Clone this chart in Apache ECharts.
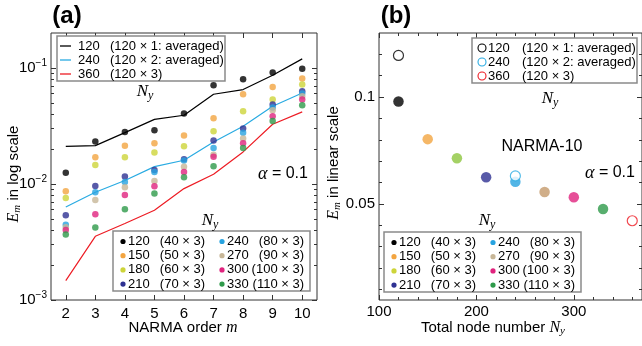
<!DOCTYPE html>
<html><head><meta charset="utf-8">
<script src="https://cdn.jsdelivr.net/npm/echarts@6/dist/echarts.min.js"></script>
<style>html,body{margin:0;padding:0;background:#fff;}#c{width:642px;height:346px;}</style>
</head><body><div id="c"></div><script>
// ---------------- DATA ----------------
const orders = [2, 3, 4, 5, 6, 7, 8, 9, 10];
const nodeCounts = [120, 150, 180, 210, 240, 270, 300, 330];
const nodeLayouts = ['(40 × 3)', '(50 × 3)', '(60 × 3)', '(70 × 3)', '(80 × 3)', '(90 × 3)', '(100 × 3)', '(110 × 3)'];
// Panel (a): E_m vs NARMA order m (single reservoir groups)
const err120 = [0.0125, 0.0232, 0.0281, 0.0290, 0.0405, 0.0710, 0.0800, 0.0915, 0.0985];
const err150 = [0.00865, 0.0170, 0.0214, 0.0224, 0.0261, 0.0368, 0.0593, 0.0686, 0.0811];
const err180 = [0.00757, 0.0146, 0.0170, 0.0187, 0.0211, 0.0285, 0.0424, 0.0534, 0.0719];
const err210 = [0.00537, 0.00962, 0.0116, 0.0132, 0.0163, 0.0237, 0.0301, 0.0483, 0.0630];
const err240 = [0.00446, 0.00848, 0.0104, 0.0127, 0.0159, 0.0204, 0.0276, 0.0456, 0.0601];
const err270 = [0.00423, 0.00728, 0.00937, 0.0106, 0.0141, 0.0179, 0.0246, 0.0432, 0.0570];
const err300 = [0.00401, 0.00548, 0.00804, 0.00955, 0.0127, 0.0172, 0.0224, 0.0383, 0.0534];
const err330 = [0.00366, 0.00421, 0.00605, 0.00826, 0.0114, 0.0142, 0.0204, 0.0348, 0.0477];
const pointSets = [err120, err150, err180, err210, err240, err270, err300, err330];
// Panel (a): lines (multiple 120-node reservoirs)
const lineNames = ['120', '240', '360'];
const lineDescs = ['(120 × 1: averaged)', '(120 × 2: averaged)', '(120 × 3)'];
const line120 = [0.0211, 0.0214, 0.0277, 0.0360, 0.0391, 0.0593, 0.0651, 0.0865, 0.1197];
const line240 = [0.00633, 0.00848, 0.0107, 0.0141, 0.0160, 0.0230, 0.0314, 0.0468, 0.0608];
const line360 = [0.00147, 0.00354, 0.00456, 0.00593, 0.00912, 0.01213, 0.01889, 0.0327, 0.0418];
const lineSets = [line120, line240, line360];
// Panel (b): NARMA-10 error vs total node number
const bFilledErr = [0.0979, 0.0803, 0.0714, 0.0625, 0.0604, 0.0556, 0.0531, 0.0476];
const bOpenN = [120, 240, 360];
const bOpenErr = [0.1195, 0.0631, 0.0421];
// Ticks
const aMajorY = [0.001, 0.01, 0.1];
const aMinorY = [0.002,0.003,0.004,0.005,0.006,0.007,0.008,0.009,0.02,0.03,0.04,0.05,0.06,0.07,0.08,0.09];
const bMajorX = [100, 200, 300];
const bMinorX = [120,140,160,180,220,240,260,280,320,340,360];
const bMajorY = [0.05, 0.1];
const bMinorY = [0.01,0.02,0.03,0.04,0.06,0.07,0.08,0.09,0.11,0.12];

// ---------------- STYLE ----------------
const SANS = '"Liberation Sans", Arial, sans-serif';
const SERIF = '"Liberation Serif", "Times New Roman", serif';
const colorsA = ['#000000', '#f3a541', '#cdd43a', '#2e3192', '#27a3e0', '#c7b697', '#e0237e', '#2e9a4a'];
const colorsB = ['#000000', '#f3a541', '#8dc63f', '#2e3192', '#27a3e0', '#c49a6c', '#e0237e', '#2e9a4a'];
const lineColors = ['#000000', '#29abe2', '#ed1c24'];
const FRAME = '#333';

function ax(o) {
  return Object.assign({
    type: 'value', axisLine: { show: false }, splitLine: { show: false },
    axisTick: { show: false }, axisLabel: { show: false }
  }, o);
}
function ticks(vals, len) { return { show: true, inside: true, length: len, customValues: vals, lineStyle: { color: FRAME, width: 1 } }; }
const tickLbl = { color: '#000', fontSize: 15, fontFamily: SANS };

const xAxes = [
  ax({ gridIndex: 0, position: 'bottom', min: 1.5, max: 10.5, axisTick: ticks(orders, 5), axisLabel: Object.assign({ show: true, customValues: orders, margin: 6 }, tickLbl) }),
  ax({ gridIndex: 0, position: 'top', min: 1.5, max: 10.5, axisTick: ticks(orders, 5) }),
  ax({ gridIndex: 1, position: 'bottom', min: 100, max: 370, axisTick: ticks(bMajorX, 5), axisLabel: Object.assign({ show: true, customValues: bMajorX, margin: 4 }, tickLbl) }),
  ax({ gridIndex: 1, position: 'bottom', min: 100, max: 370, axisTick: ticks(bMinorX, 3) }),
  ax({ gridIndex: 1, position: 'top', min: 100, max: 370, axisTick: ticks(bMajorX, 5) }),
  ax({ gridIndex: 1, position: 'top', min: 100, max: 370, axisTick: ticks(bMinorX, 3) })
];
const logAx = (o) => ax(Object.assign({ type: 'log', logBase: 10, min: 0.001, max: 0.2 }, o));
const yAxes = [
  logAx({ gridIndex: 0, position: 'left', axisTick: ticks(aMajorY, 5), axisLabel: {
    show: true, customValues: aMajorY, margin: 4,
    formatter: v => '{b|10}{s|−' + Math.round(-Math.log10(v)) + '}',
    rich: { b: { fontSize: 15, fontFamily: SANS, color: '#000' }, s: { fontSize: 10, fontFamily: SANS, color: '#000', padding: [0, 0, 9, 0] } }
  } }),
  logAx({ gridIndex: 0, position: 'left', axisTick: ticks(aMinorY, 3) }),
  logAx({ gridIndex: 0, position: 'right', axisTick: ticks(aMajorY, 5) }),
  logAx({ gridIndex: 0, position: 'right', axisTick: ticks(aMinorY, 3) }),
  ax({ gridIndex: 1, position: 'left', min: 0.005, max: 0.13, axisTick: ticks(bMajorY, 5), axisLabel: Object.assign({ show: true, customValues: bMajorY, margin: 4 }, tickLbl) }),
  ax({ gridIndex: 1, position: 'left', min: 0.005, max: 0.13, axisTick: ticks(bMinorY, 3) }),
  ax({ gridIndex: 1, position: 'right', min: 0.005, max: 0.13, axisTick: ticks(bMajorY, 5) }),
  ax({ gridIndex: 1, position: 'right', min: 0.005, max: 0.13, axisTick: ticks(bMinorY, 3) })
];

const series = [];
lineSets.forEach((arr, k) => series.push({
  type: 'line', xAxisIndex: 0, yAxisIndex: 0, symbol: 'none', z: 2,
  lineStyle: { color: lineColors[k], width: 1.2 },
  data: orders.map((m, i) => [m, arr[i]])
}));
pointSets.forEach((arr, k) => series.push({
  type: 'scatter', xAxisIndex: 0, yAxisIndex: 0, symbolSize: 6.5, z: 3,
  itemStyle: { color: colorsA[k] },
  data: orders.map((m, i) => [m, arr[i]])
}));
series.push({
  type: 'scatter', xAxisIndex: 2, yAxisIndex: 4, symbolSize: 10.5, z: 3,
  data: nodeCounts.map((n, i) => ({ value: [n, bFilledErr[i]], itemStyle: { color: colorsB[i] } }))
});
series.push({
  type: 'scatter', xAxisIndex: 2, yAxisIndex: 4, symbolSize: 10, z: 4,
  data: bOpenN.map((n, i) => ({ value: [n, bOpenErr[i]], itemStyle: { color: '#fff', borderColor: lineColors[i], borderWidth: 1.2 } }))
});

// ---------------- TEXT / LEGENDS ----------------
const G = [];
function txt(x, y, text, st, extra) {
  G.push(Object.assign({ type: 'text', x: x, y: y, z: 100, silent: true,
    style: Object.assign({ text: text, fill: '#000', font: '13px ' + SANS, textAlign: 'left', align: 'left', textVerticalAlign: 'middle', verticalAlign: 'middle' }, st || {}) }, extra || {}));
}
function box(x1, y1, x2, y2) {
  G.push({ type: 'rect', z: 90, silent: true, shape: { x: x1, y: y1, width: x2 - x1, height: y2 - y1 }, style: { fill: '#fff', stroke: '#8a8a8a', lineWidth: 1.5 } });
}
function dot(cx, cy, r, fill, stroke) {
  G.push({ type: 'circle', z: 95, silent: true, shape: { cx: cx, cy: cy, r: r }, style: stroke ? { fill: '#fff', stroke: stroke, lineWidth: 1.1 } : { fill: fill } });
}
const NY = { text: '{n|N}{y|y}', rich: { n: { fontSize: 17, fontFamily: SERIF, fontStyle: 'italic' }, y: { fontSize: 12, fontFamily: SERIF, fontStyle: 'italic', padding: [8, 0, 0, 0] } }, textAlign: 'center', align: 'center' };
const ALPHA = { text: '{a|α}{t| = 0.1}', rich: { a: { fontSize: 18, fontFamily: SERIF, fontStyle: 'italic' }, t: { fontSize: 16, fontFamily: SANS } } };

// Panel labels
txt(67, 16, '(a)', { font: 'bold 24px ' + SANS, textAlign: 'center', align: 'center' });
txt(396, 16, '(b)', { font: 'bold 24px ' + SANS, textAlign: 'center', align: 'center' });
// Axis titles
txt(183, 328, '{t|NARMA order }{m|m}', { textAlign: 'center', align: 'center', rich: { t: { fontSize: 15, fontFamily: SANS }, m: { fontSize: 16, fontFamily: SERIF, fontStyle: 'italic' } } });
txt(493, 328, '{t|Total node number }{n|N}{y|y}', { textAlign: 'center', align: 'center', rich: { t: { fontSize: 15, fontFamily: SANS }, n: { fontSize: 16, fontFamily: SERIF, fontStyle: 'italic' }, y: { fontSize: 11, fontFamily: SERIF, fontStyle: 'italic', padding: [7, 0, 0, 0] } } });
const eRich = { e: { fontSize: 16, fontFamily: SERIF, fontStyle: 'italic' }, m: { fontSize: 11, fontFamily: SERIF, fontStyle: 'italic', padding: [7, 0, 0, 0] }, t: { fontSize: 15, fontFamily: SANS } };
txt(14, 174, '{e|E}{m|m}{t| in log scale}', { textAlign: 'center', align: 'center', rich: eRich }, { rotation: Math.PI / 2 });
txt(334, 163, '{e|E}{m|m}{t| in linear scale}', { textAlign: 'center', align: 'center', rich: eRich }, { rotation: Math.PI / 2 });

// (a) top legend
box(57, 36, 225, 81);
lineNames.forEach((nm, i) => {
  const y = 46 + i * 14;
  G.push({ type: 'line', z: 95, silent: true, shape: { x1: 60, y1: y, x2: 71, y2: y }, style: { stroke: lineColors[i], lineWidth: 1.3 } });
  txt(78, y, nm); txt(110, y, lineDescs[i]);
});
txt(145, 92, '', NY);
// (b) top legend
box(472, 38, 637, 83);
lineNames.forEach((nm, i) => {
  const y = 48 + i * 14;
  dot(482, y, 4, null, lineColors[i]);
  txt(488, y, nm); txt(522, y, lineDescs[i]);
});
txt(550, 99, '', NY);
// bottom legends
function nodeLegend(ox, oy, cols) {
  box(ox, oy, ox + 197, oy + 60);
  nodeCounts.forEach((n, i) => {
    const c = Math.floor(i / 4), r = i % 4;
    const y = oy + 10.5 + r * 14.2;
    const x0 = ox + 10 + c * 99;
    dot(x0, y, 2.6, cols[i]);
    txt(x0 + 5, y, String(n));
    txt(x0 + 82, y, nodeLayouts[i], { textAlign: 'right', align: 'right' });
  });
}
nodeLegend(113, 231, colorsA);
txt(210, 221, '', NY);
nodeLegend(384, 232, colorsA);
txt(487, 221, '', NY);
// annotations
txt(258, 174, '', ALPHA);
txt(585, 173, '', ALPHA);
txt(542, 147, 'NARMA-10', { font: '16px ' + SANS, textAlign: 'center', align: 'center' });

const option = {
  animation: false,
  backgroundColor: '#fff',
  grid: [
    { left: 51, top: 33, width: 266, height: 267, show: true, borderColor: FRAME, borderWidth: 1, backgroundColor: 'transparent' },
    { left: 379, top: 33, width: 265, height: 267, show: true, borderColor: FRAME, borderWidth: 1, backgroundColor: 'transparent' }
  ],
  xAxis: xAxes,
  yAxis: yAxes,
  series: series,
  graphic: { elements: G }
};
const chart = echarts.init(document.getElementById('c'), null, { renderer: 'canvas' });
chart.setOption(option);
</script></body></html>
